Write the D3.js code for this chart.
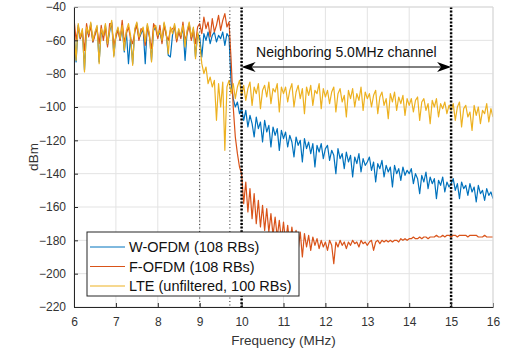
<!DOCTYPE html>
<html>
<head>
<meta charset="utf-8">
<script src="https://cdn.jsdelivr.net/npm/d3@7"></script>
<style>
  html, body { margin: 0; padding: 0; background: #fff; }
  svg { display: block; font-family: "Liberation Sans", Arial, sans-serif; }
</style>
</head>
<body>
<div id="chart"></div>
<script>
// frequency grid: 6 .. 16 MHz, one sample every 0.05 MHz (201 samples)
const freqStart = 6;
const freqStep = 0.05;

// W-OFDM (108 RBs), dBm
const wofdm = [
  -55,-73,-51,-59,-54,-78,-53,-57,-50,-61,
  -56,-52,-73,-54,-58,-51,-63,-55,-49,-69,
  -57,-53,-60,-52,-67,-55,-74,-58,-74,-54,
  -50,-59,-56,-53,-74,-51,-57,-72,-54,-52,
  -58,-55,-61,-50,-56,-69,-70,-57,-51,-60,
  -54,-58,-52,-72,-55,-50,-59,-53,-70,-56,
  -58,-70,-56,-60,-55,-62,-57,-55,-61,-57,
  -59,-55,-63,-56,-58,-86,-95,-100,-97,-104,
  -101,-108,-102,-112,-105,-110,-118,-106,-113,-109,
  -121,-108,-115,-111,-124,-112,-117,-113,-126,-114,
  -119,-115,-124,-117,-121,-130,-118,-123,-120,-133,
  -119,-125,-121,-128,-122,-136,-123,-127,-122,-131,
  -125,-123,-132,-126,-129,-140,-125,-131,-128,-137,
  -127,-133,-129,-142,-130,-134,-128,-139,-131,-135,
  -133,-130,-138,-133,-145,-134,-137,-132,-142,-135,
  -139,-136,-148,-135,-140,-137,-144,-136,-141,-138,
  -140,-137,-146,-140,-143,-152,-141,-145,-139,-149,
  -142,-146,-143,-155,-144,-147,-142,-151,-145,-148,
  -146,-143,-150,-146,-155,-145,-149,-147,-153,-146,
  -151,-148,-157,-147,-152,-150,-156,-149,-153,-151,
  -155
];

// F-OFDM (108 RBs), dBm
const fofdm = [
  -47,-60,-52,-59,-55,-66,-50,-58,-51,-61,
  -57,-53,-62,-51,-60,-52,-64,-50,-50,-63,
  -58,-54,-60,-48,-61,-56,-52,-59,-62,-55,
  -51,-60,-53,-54,-63,-52,-58,-65,-50,-53,
  -59,-51,-62,-51,-57,-60,-54,-53,-52,-61,
  -55,-59,-49,-60,-56,-51,-60,-54,-62,-52,
  -50,-56,-46,-53,-49,-58,-47,-55,-51,-45,
  -54,-48,-44,-52,-49,-72,-100,-118,-128,-136,
  -140,-158,-145,-163,-149,-167,-152,-170,-156,-172,
  -159,-174,-161,-175,-164,-177,-166,-178,-168,-180,
  -169,-181,-171,-183,-172,-182,-174,-186,-175,-190,
  -176,-184,-177,-186,-178,-183,-179,-185,-180,-184,
  -181,-186,-180,-183,-194,-181,-184,-180,-183,-181,
  -185,-181,-183,-180,-182,-181,-184,-180,-182,-181,
  -183,-181,-180,-186,-181,-180,-182,-180,-181,-180,
  -181,-180,-181,-180,-180,-181,-179,-180,-179,-180,
  -179,-179,-178,-179,-179,-178,-179,-178,-178,-179,
  -178,-178,-178,-177,-178,-178,-177,-178,-177,-177,
  -178,-177,-177,-178,-177,-177,-177,-177,-178,-177,
  -177,-177,-177,-178,-178,-178,-177,-178,-178,-178,
  -178
];

// LTE (unfiltered, 100 RBs), dBm
const lte = [
  -54,-72,-50,-58,-53,-79,-52,-56,-49,-60,
  -55,-51,-74,-53,-57,-50,-62,-54,-48,-70,
  -56,-52,-59,-51,-66,-54,-50,-57,-75,-53,
  -49,-58,-55,-52,-61,-50,-56,-73,-53,-51,
  -57,-54,-60,-49,-55,-68,-52,-56,-50,-59,
  -53,-57,-51,-64,-54,-49,-58,-52,-71,-55,
  -62,-74,-80,-76,-86,-82,-88,-84,-108,-86,
  -100,-85,-126,-88,-84,-92,-86,-95,-88,-84,
  -93,-87,-96,-89,-85,-99,-88,-92,-86,-101,
  -90,-87,-94,-85,-98,-89,-91,-86,-103,-88,
  -92,-88,-97,-90,-86,-100,-91,-87,-95,-89,
  -104,-88,-93,-87,-99,-90,-92,-86,-101,-89,
  -94,-90,-98,-91,-88,-103,-92,-89,-97,-93,
  -106,-90,-95,-89,-100,-92,-96,-88,-102,-91,
  -95,-92,-100,-93,-90,-104,-94,-91,-99,-95,
  -107,-92,-97,-91,-102,-94,-98,-93,-105,-95,
  -99,-95,-103,-96,-94,-108,-97,-95,-102,-98,
  -110,-96,-100,-95,-106,-98,-101,-97,-104,-99,
  -102,-98,-108,-100,-97,-112,-101,-99,-106,-103,
  -114,-99,-105,-100,-110,-102,-104,-98,-109,-101,
  -106
];

const seriesNames = ["W-OFDM (108 RBs)", "F-OFDM (108 RBs)", "LTE (unfiltered, 100 RBs)"];
const seriesColors = ["#0072BD", "#D95319", "#EDB120"];
const xTicks = [6, 7, 8, 9, 10, 11, 12, 13, 14, 15, 16];
const yTicks = [-220, -200, -180, -160, -140, -120, -100, -80, -60, -40];
const thinMarkers = [9, 9.72];     // band edges (thin dotted)
const channelEdges = [10, 15];     // neighbouring channel (thick dotted)
const channelLabel = "Neighboring 5.0MHz channel";

const W = 525, H = 350;
const margin = { top: 7, right: 32, bottom: 43, left: 74 };
const w = W - margin.left - margin.right;
const h = H - margin.top - margin.bottom;

const svg = d3.select("#chart").append("svg")
  .attr("width", W).attr("height", H);

const g = svg.append("g").attr("transform", `translate(${margin.left},${margin.top})`);

const x = d3.scaleLinear().domain([6, 16]).range([0, w]);
const y = d3.scaleLinear().domain([-220, -40]).range([h, 0]);

svg.append("defs").append("clipPath").attr("id", "clip")
  .append("rect").attr("width", w).attr("height", h);

// grid
g.append("g").selectAll("line").data(xTicks).join("line")
  .attr("x1", d => x(d)).attr("x2", d => x(d)).attr("y1", 0).attr("y2", h)
  .attr("stroke", "#e3e3e3");
g.append("g").selectAll("line").data(yTicks).join("line")
  .attr("x1", 0).attr("x2", w).attr("y1", d => y(d)).attr("y2", d => y(d))
  .attr("stroke", "#e3e3e3");

// series (plot order: W-OFDM, F-OFDM, LTE on top)
const line = d3.line()
  .x((d, i) => x(freqStart + i * freqStep))
  .y(d => y(d));

const lines = g.append("g").attr("clip-path", "url(#clip)");
[wofdm, fofdm, lte].forEach((s, k) => {
  lines.append("path").datum(s)
    .attr("fill", "none")
    .attr("stroke", seriesColors[k])
    .attr("stroke-width", 1.2)
    .attr("stroke-linejoin", "round")
    .attr("d", line);
});

// vertical markers
g.selectAll(".thin").data(thinMarkers).join("line").attr("class", "thin")
  .attr("x1", d => x(d)).attr("x2", d => x(d)).attr("y1", 0).attr("y2", h)
  .attr("stroke", "#222").attr("stroke-width", 1).attr("stroke-dasharray", "1,2.5");
g.selectAll(".thick").data(channelEdges).join("line").attr("class", "thick")
  .attr("x1", d => x(d)).attr("x2", d => x(d)).attr("y1", 0).attr("y2", h)
  .attr("stroke", "#000").attr("stroke-width", 2.5).attr("stroke-dasharray", "2,1.6");

// double arrow + label
const ay = y(-76);
const x0 = x(channelEdges[0]), x1 = x(channelEdges[1]);
g.append("line").attr("x1", x0 + 2).attr("x2", x1 - 2).attr("y1", ay).attr("y2", ay)
  .attr("stroke", "#000").attr("stroke-width", 1);
[[x0, 1], [x1, -1]].forEach(([px, dir]) => {
  g.append("path")
    .attr("d", `M${px},${ay} L${px + dir * 14},${ay - 5} L${px + dir * 10},${ay} L${px + dir * 14},${ay + 5} Z`)
    .attr("fill", "#000");
});
g.append("text").attr("x", (x0 + x1) / 2).attr("y", ay - 10)
  .attr("text-anchor", "middle").attr("font-size", 14).attr("fill", "#111")
  .text(channelLabel);

// axes
const tickCol = "#333";
const xAxis = g.append("g").attr("transform", `translate(0,${h})`)
  .call(d3.axisBottom(x).tickValues(xTicks).tickSizeInner(-4).tickSizeOuter(0).tickPadding(10));
const yAxis = g.append("g")
  .call(d3.axisLeft(y).tickValues(yTicks).tickSizeInner(-4).tickSizeOuter(0).tickPadding(8));
[xAxis, yAxis].forEach(a => {
  a.select(".domain").attr("stroke", "#262626");
  a.selectAll(".tick line").attr("stroke", "#262626");
  a.selectAll(".tick text").attr("fill", tickCol).attr("font-size", 12)
    .attr("font-family", "'Liberation Sans', Arial, sans-serif");
});

// light box on top/right
g.append("line").attr("x1", 0).attr("x2", w).attr("y1", 0).attr("y2", 0).attr("stroke", "#d9d9d9");
g.append("line").attr("x1", w).attr("x2", w).attr("y1", 0).attr("y2", h).attr("stroke", "#d9d9d9");

// axis labels
svg.append("text").attr("x", margin.left + w / 2).attr("y", 345)
  .attr("text-anchor", "middle").attr("font-size", 13.5).attr("fill", tickCol)
  .text("Frequency (MHz)");
svg.append("text").attr("transform", `translate(38,${margin.top + h / 2}) rotate(-90)`)
  .attr("text-anchor", "middle").attr("font-size", 13.5).attr("fill", tickCol)
  .text("dBm");

// legend
const lg = svg.append("g").attr("transform", "translate(87,232)");
lg.append("rect").attr("width", 212).attr("height", 64)
  .attr("fill", "#fff").attr("stroke", "#262626").attr("stroke-width", 1);
seriesNames.forEach((name, k) => {
  const ry = 15 + k * 19.5;
  lg.append("line").attr("x1", 3).attr("x2", 38).attr("y1", ry).attr("y2", ry)
    .attr("stroke", seriesColors[k]).attr("stroke-width", 1);
  lg.append("text").attr("x", 42).attr("y", ry + 5)
    .attr("font-size", 14.5).attr("fill", "#111").text(name);
});
</script>
</body>
</html>
